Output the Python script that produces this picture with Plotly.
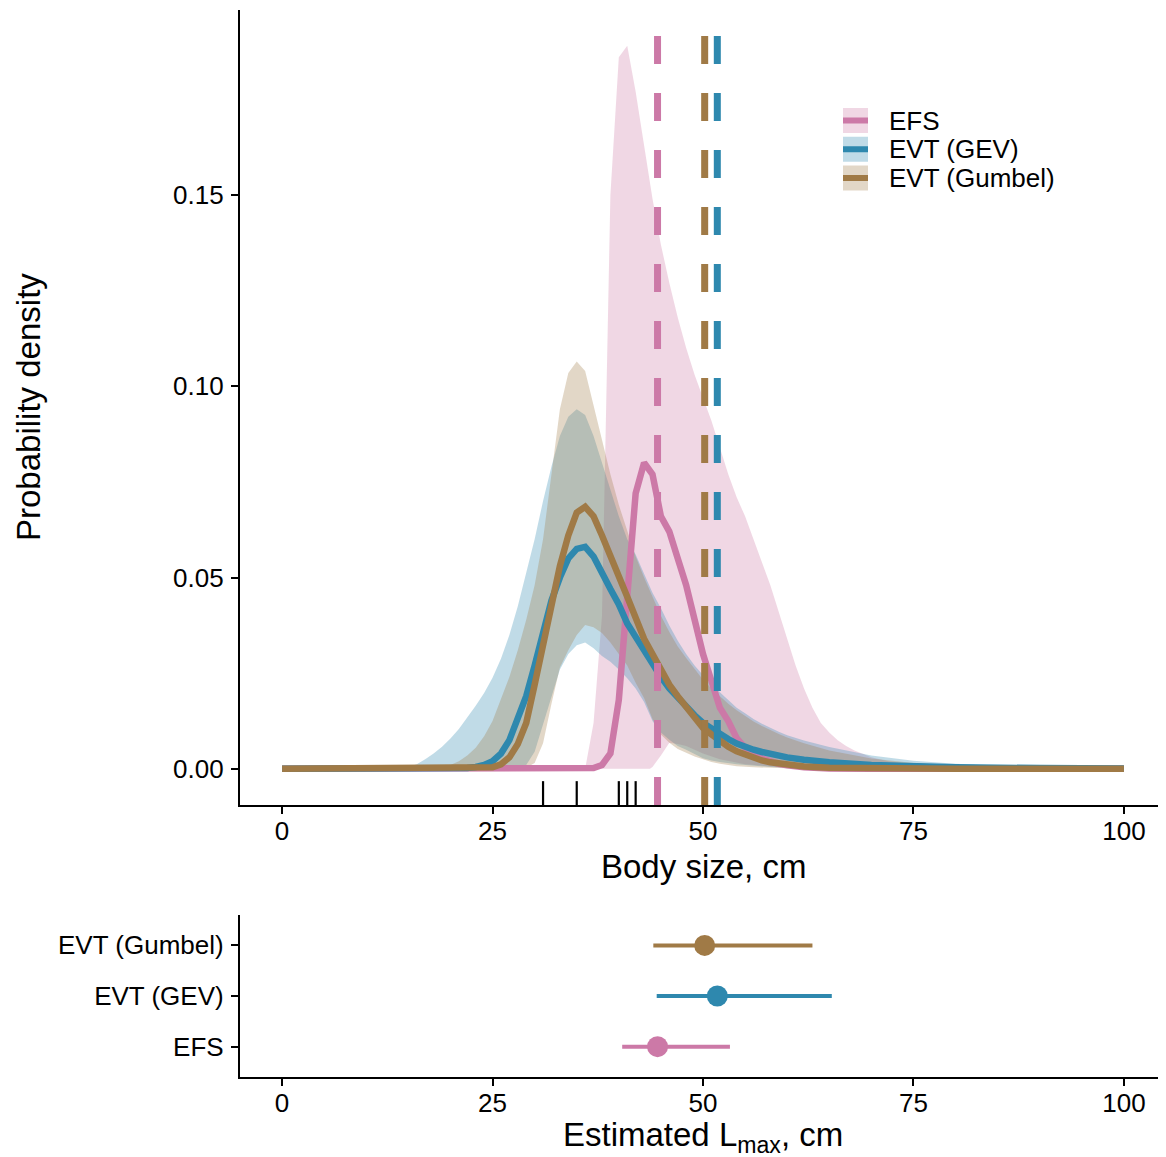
import plotly.graph_objects as go

# ---------------- data ----------------
methods = ["EFS", "EVT (GEV)", "EVT (Gumbel)"]
colors = ["#CC79A7", "#2E88AE", "#A07A46"]
fills = ["rgba(204,121,167,0.3)", "rgba(46,136,174,0.3)", "rgba(160,122,70,0.3)"]

# EFS density (median, lower, upper)
efs_x = [0, 37, 38, 39, 40, 41, 42, 43, 44, 45, 46, 47, 48, 49, 50, 51, 52, 53, 54, 55,
         56, 57, 58, 59, 60, 62, 65, 70, 100]
efs_mid = [0, 0.0002, 0.001, 0.004, 0.018, 0.045, 0.072, 0.080, 0.077, 0.066, 0.062, 0.055,
           0.048, 0.039, 0.030, 0.023, 0.016, 0.0125, 0.008, 0.0055, 0.0038, 0.0027, 0.0019,
           0.0013, 0.0009, 0.0004, 0.0001, 0, 0]
efs_hi_x = [0, 36, 37, 38, 39, 40, 41, 42, 43, 44, 45, 46, 47, 48, 49, 50, 51, 52, 53, 54,
            55, 56, 57, 58, 59, 60, 61, 62, 63, 64, 65, 66, 67, 68, 69, 70, 72, 75, 80, 85, 90, 100]
efs_hi = [0, 0, 0.012, 0.040, 0.150, 0.186, 0.189, 0.177, 0.163, 0.149, 0.137, 0.127, 0.118,
          0.110, 0.103, 0.097, 0.091, 0.084, 0.077, 0.071, 0.066, 0.060, 0.054, 0.048, 0.041,
          0.034, 0.027, 0.021, 0.016, 0.012, 0.0095, 0.0075, 0.006, 0.0048, 0.0038, 0.003,
          0.002, 0.0012, 0.0005, 0.0002, 0.0001, 0]
efs_lo_x = [0, 43.7, 44, 45, 46, 47, 48, 49, 50, 52, 55, 60, 65, 100]
efs_lo = [0, 0, 0.0005, 0.0035, 0.0068, 0.0065, 0.006, 0.005, 0.004, 0.0025, 0.0012, 0.0003, 0, 0]

# EVT (GEV) density
gev_x = [0, 20, 22, 23, 24, 25, 26, 27, 28, 29, 30, 31, 32, 33, 34, 35, 36, 37, 38, 39, 40,
         41, 42, 43, 44, 45, 46, 47, 48, 49, 50, 51, 52, 53, 54, 55, 56, 57, 58, 60, 62, 65,
         70, 75, 80, 90, 100]
gev_mid = [0, 0, 0.0002, 0.0005, 0.001, 0.002, 0.004, 0.0075, 0.013, 0.019, 0.027, 0.036,
           0.044, 0.050, 0.055, 0.0575, 0.058, 0.0555, 0.051, 0.047, 0.043, 0.038, 0.0345,
           0.031, 0.027, 0.024, 0.021, 0.0185, 0.016, 0.014, 0.012, 0.0105, 0.009, 0.0078,
           0.0066, 0.0057, 0.005, 0.0044, 0.0039, 0.003, 0.0024, 0.0017, 0.001, 0.0006,
           0.0004, 0.0002, 0.0001]
gev_hi_x = [0, 14, 15, 16, 17, 18, 19, 20, 21, 22, 23, 24, 25, 26, 27, 28, 29, 30, 31, 32,
            33, 34, 35, 36, 37, 38, 39, 40, 41, 42, 43, 44, 45, 46, 47, 48, 49, 50, 51, 52,
            53, 54, 55, 56, 57, 58, 59, 60, 62, 65, 70, 75, 80, 85, 90, 100]
gev_hi = [0, 0, 0.0005, 0.0012, 0.0025, 0.004, 0.0058, 0.0079, 0.0104, 0.0133, 0.0165, 0.0198,
          0.0238, 0.0288, 0.035, 0.0425, 0.051, 0.060, 0.070, 0.079, 0.087, 0.092, 0.094,
          0.0925, 0.087, 0.080, 0.073, 0.066, 0.060, 0.056, 0.051, 0.046, 0.042, 0.0375,
          0.0335, 0.030, 0.027, 0.0245, 0.022, 0.020, 0.018, 0.016, 0.0145, 0.013, 0.0118,
          0.0107, 0.0097, 0.0088, 0.0074, 0.0057, 0.0035, 0.0021, 0.0013, 0.0008, 0.0005, 0.0002]
gev_lo_x = [0, 27, 28, 29, 30, 31, 32, 33, 34, 35, 36, 37, 38, 39, 40, 41, 42, 43, 44, 45,
            46, 47, 48, 49, 50, 51, 52, 54, 56, 58, 60, 65, 70, 100]
gev_lo = [0, 0, 0.0002, 0.001, 0.0045, 0.0115, 0.019, 0.026, 0.030, 0.0323, 0.033, 0.0315,
          0.0295, 0.028, 0.026, 0.0237, 0.021, 0.0175, 0.0125, 0.0095, 0.0076, 0.006, 0.005,
          0.004, 0.0028, 0.0022, 0.0018, 0.0012, 0.0008, 0.0005, 0.0003, 0.0001, 0, 0]

# EVT (Gumbel) density
gum_x = [0, 23, 24, 25, 26, 27, 28, 29, 30, 31, 32, 33, 34, 35, 36, 37, 38, 39, 40, 41, 42,
         43, 44, 45, 46, 47, 48, 49, 50, 51, 52, 53, 54, 55, 56, 57, 58, 60, 62, 65, 70, 80, 100]
gum_mid = [0, 0, 0.0001, 0.0004, 0.0012, 0.003, 0.0065, 0.012, 0.022, 0.032, 0.042, 0.053,
           0.061, 0.067, 0.0685, 0.066, 0.061, 0.056, 0.050, 0.045, 0.0395, 0.034, 0.030,
           0.026, 0.022, 0.019, 0.016, 0.013, 0.0107, 0.009, 0.0073, 0.0058, 0.0046, 0.0037,
           0.0029, 0.0022, 0.0017, 0.001, 0.0006, 0.0003, 0.0001, 0, 0]
gum_hi_x = [0, 18, 19, 20, 21, 22, 23, 24, 25, 26, 27, 28, 29, 30, 31, 32, 33, 34, 35, 36,
            37, 38, 39, 40, 41, 42, 43, 44, 45, 46, 47, 48, 49, 50, 51, 52, 53, 54, 55, 56,
            57, 58, 59, 60, 62, 65, 70, 75, 80, 85, 90, 100]
gum_hi = [0, 0, 0.0003, 0.001, 0.002, 0.0035, 0.0055, 0.0085, 0.0125, 0.018, 0.024, 0.031,
          0.039, 0.048, 0.060, 0.077, 0.094, 0.1035, 0.1065, 0.104, 0.095, 0.086, 0.077,
          0.069, 0.062, 0.0555, 0.050, 0.045, 0.040, 0.0358, 0.032, 0.029, 0.026, 0.0233,
          0.021, 0.019, 0.017, 0.0153, 0.0138, 0.0124, 0.0112, 0.0101, 0.0091, 0.0082,
          0.0067, 0.0048, 0.0027, 0.0015, 0.0008, 0.0004, 0.0002, 0]
gum_lo_x = [0, 28, 29, 30, 31, 32, 33, 34, 35, 36, 37, 38, 39, 40, 41, 42, 43, 44, 45, 46,
            47, 48, 49, 50, 51, 52, 54, 56, 58, 60, 62, 100]
gum_lo = [0, 0, 0.0003, 0.0015, 0.0067, 0.017, 0.0265, 0.031, 0.035, 0.0376, 0.037, 0.0355,
          0.033, 0.030, 0.027, 0.0225, 0.0185, 0.013, 0.009, 0.0068, 0.0052, 0.0042, 0.0032,
          0.0024, 0.0018, 0.0013, 0.0007, 0.0004, 0.0002, 0.0001, 0, 0]

# Observed sizes (rug)
rug_sizes = [31, 35, 40, 41, 42]

# Estimated Lmax: median and interval
lmax_mid = [44.6, 51.7, 50.2]
lmax_lo = [40.4, 44.5, 44.1]
lmax_hi = [53.2, 65.3, 63.0]

x_ticks = [0, 25, 50, 75, 100]
y_ticks = [0.00, 0.05, 0.10, 0.15]

# ---------------- geometry helpers ----------------
# the html page body has an 8px margin; the figure is sized so it fits the window
OFF = 8
W, H = 1166 - OFF, 1157 - OFF
ML, MR, MT, MB = 240 - OFF, 0, 10 - OFF, 80
PW = W - ML - MR
PH = H - MT - MB
TOP_PANEL_BOTTOM_PX = 805   # page pixel
BOT_PANEL_TOP_PX = 915      # page pixel


def px_x(p):
    return (p - OFF - ML) / PW


def px_y(p):
    return (H - MB - (p - OFF)) / PH


FONT = "Liberation Sans, Arial, Helvetica, sans-serif"

series = [
    (efs_x, efs_mid, efs_lo_x, efs_lo, efs_hi_x, efs_hi),
    (gev_x, gev_mid, gev_lo_x, gev_lo, gev_hi_x, gev_hi),
    (gum_x, gum_mid, gum_lo_x, gum_lo, gum_hi_x, gum_hi),
]

fig = go.Figure()

# ribbons
for i, (mx, my, lx, ly, hx, hy) in enumerate(series):
    fig.add_trace(go.Scatter(
        x=list(hx) + list(lx)[::-1],
        y=list(hy) + list(ly)[::-1],
        fill="toself", fillcolor=fills[i], line=dict(width=0),
        mode="lines", hoverinfo="skip", showlegend=False,
        xaxis="x", yaxis="y"))

# median lines
for i, (mx, my, lx, ly, hx, hy) in enumerate(series):
    fig.add_trace(go.Scatter(
        x=mx, y=my, mode="lines", line=dict(color=colors[i], width=6.5),
        name=methods[i], showlegend=False, xaxis="x", yaxis="y"))

# bottom panel: point estimates with intervals
for i in range(3):
    fig.add_trace(go.Scatter(
        x=[lmax_mid[i]], y=[i + 1], mode="markers",
        marker=dict(color=colors[i], size=21),
        error_x=dict(type="data", symmetric=False,
                     array=[lmax_hi[i] - lmax_mid[i]],
                     arrayminus=[lmax_mid[i] - lmax_lo[i]],
                     color=colors[i], thickness=4, width=0),
        showlegend=False, xaxis="x2", yaxis="y2"))

shapes = []
# dashed vertical lines at estimated Lmax
for i in range(3):
    shapes.append(dict(type="line", xref="x", yref="y domain",
                       x0=lmax_mid[i], x1=lmax_mid[i], y0=0, y1=1,
                       line=dict(color=colors[i], width=7, dash="28px,29px"),
                       layer="above"))
# rug
for s in rug_sizes:
    shapes.append(dict(type="line", xref="x", yref="y domain",
                       x0=s, x1=s, y0=0, y1=0.03,
                       line=dict(color="black", width=2.2), layer="above"))

# custom legend
annotations = []
for i in range(3):
    cy = 120.5 + 28.75 * i
    shapes.append(dict(type="rect", xref="paper", yref="paper",
                       x0=px_x(843), x1=px_x(868), y0=px_y(cy + 12.5), y1=px_y(cy - 12.5),
                       fillcolor=fills[i], line=dict(width=0), layer="above"))
    shapes.append(dict(type="line", xref="paper", yref="paper",
                       x0=px_x(843), x1=px_x(868), y0=px_y(cy), y1=px_y(cy),
                       line=dict(color=colors[i], width=6), layer="above"))
    annotations.append(dict(text=methods[i], xref="paper", yref="paper",
                            x=px_x(887), y=px_y(cy), xanchor="left", yanchor="middle",
                            showarrow=False, font=dict(family=FONT, size=26, color="black")))

# axis titles
annotations.append(dict(text="Body size, cm", xref="paper", yref="paper",
                        x=px_x(703), y=px_y(866), xanchor="center", yanchor="middle",
                        showarrow=False, font=dict(family=FONT, size=33, color="black")))
annotations.append(dict(text="Estimated L<sub>max</sub>, cm", xref="paper", yref="paper",
                        x=px_x(703), y=px_y(1137), xanchor="center", yanchor="middle",
                        showarrow=False, font=dict(family=FONT, size=33, color="black")))
annotations.append(dict(text="Probability density", xref="paper", yref="paper",
                        x=px_x(28), y=px_y(407), xanchor="center", yanchor="middle",
                        textangle=-90, showarrow=False,
                        font=dict(family=FONT, size=33, color="black")))

axis_common = dict(showline=True, linecolor="black", linewidth=2.2, ticks="outside",
                   ticklen=7, tickwidth=2, tickcolor="black", showgrid=False,
                   zeroline=False, tickfont=dict(family=FONT, size=26, color="black"))

fig.update_layout(
    width=W, height=H,
    margin=dict(l=ML, r=MR, t=MT, b=MB, autoexpand=False),
    plot_bgcolor="white", paper_bgcolor="white",
    showlegend=False,
    xaxis=dict(domain=[0, 1], anchor="y", range=[-5, 105], tickvals=x_ticks,
               ticklabelstandoff=-5, **axis_common),
    yaxis=dict(domain=[px_y(TOP_PANEL_BOTTOM_PX), 1], anchor="x", range=[-0.00945, 0.19835],
               tickvals=y_ticks, tickformat=".2f", ticklabelstandoff=2, **axis_common),
    xaxis2=dict(domain=[0, 1], anchor="y2", range=[-5, 105], tickvals=x_ticks,
                ticklabelstandoff=-5, **axis_common),
    yaxis2=dict(domain=[0, px_y(BOT_PANEL_TOP_PX)], anchor="x2", range=[0.4, 3.6],
                tickvals=[1, 2, 3], ticktext=methods, ticklabelstandoff=2, **axis_common),
    shapes=shapes,
    annotations=annotations,
)

fig.write_html("out.html")
